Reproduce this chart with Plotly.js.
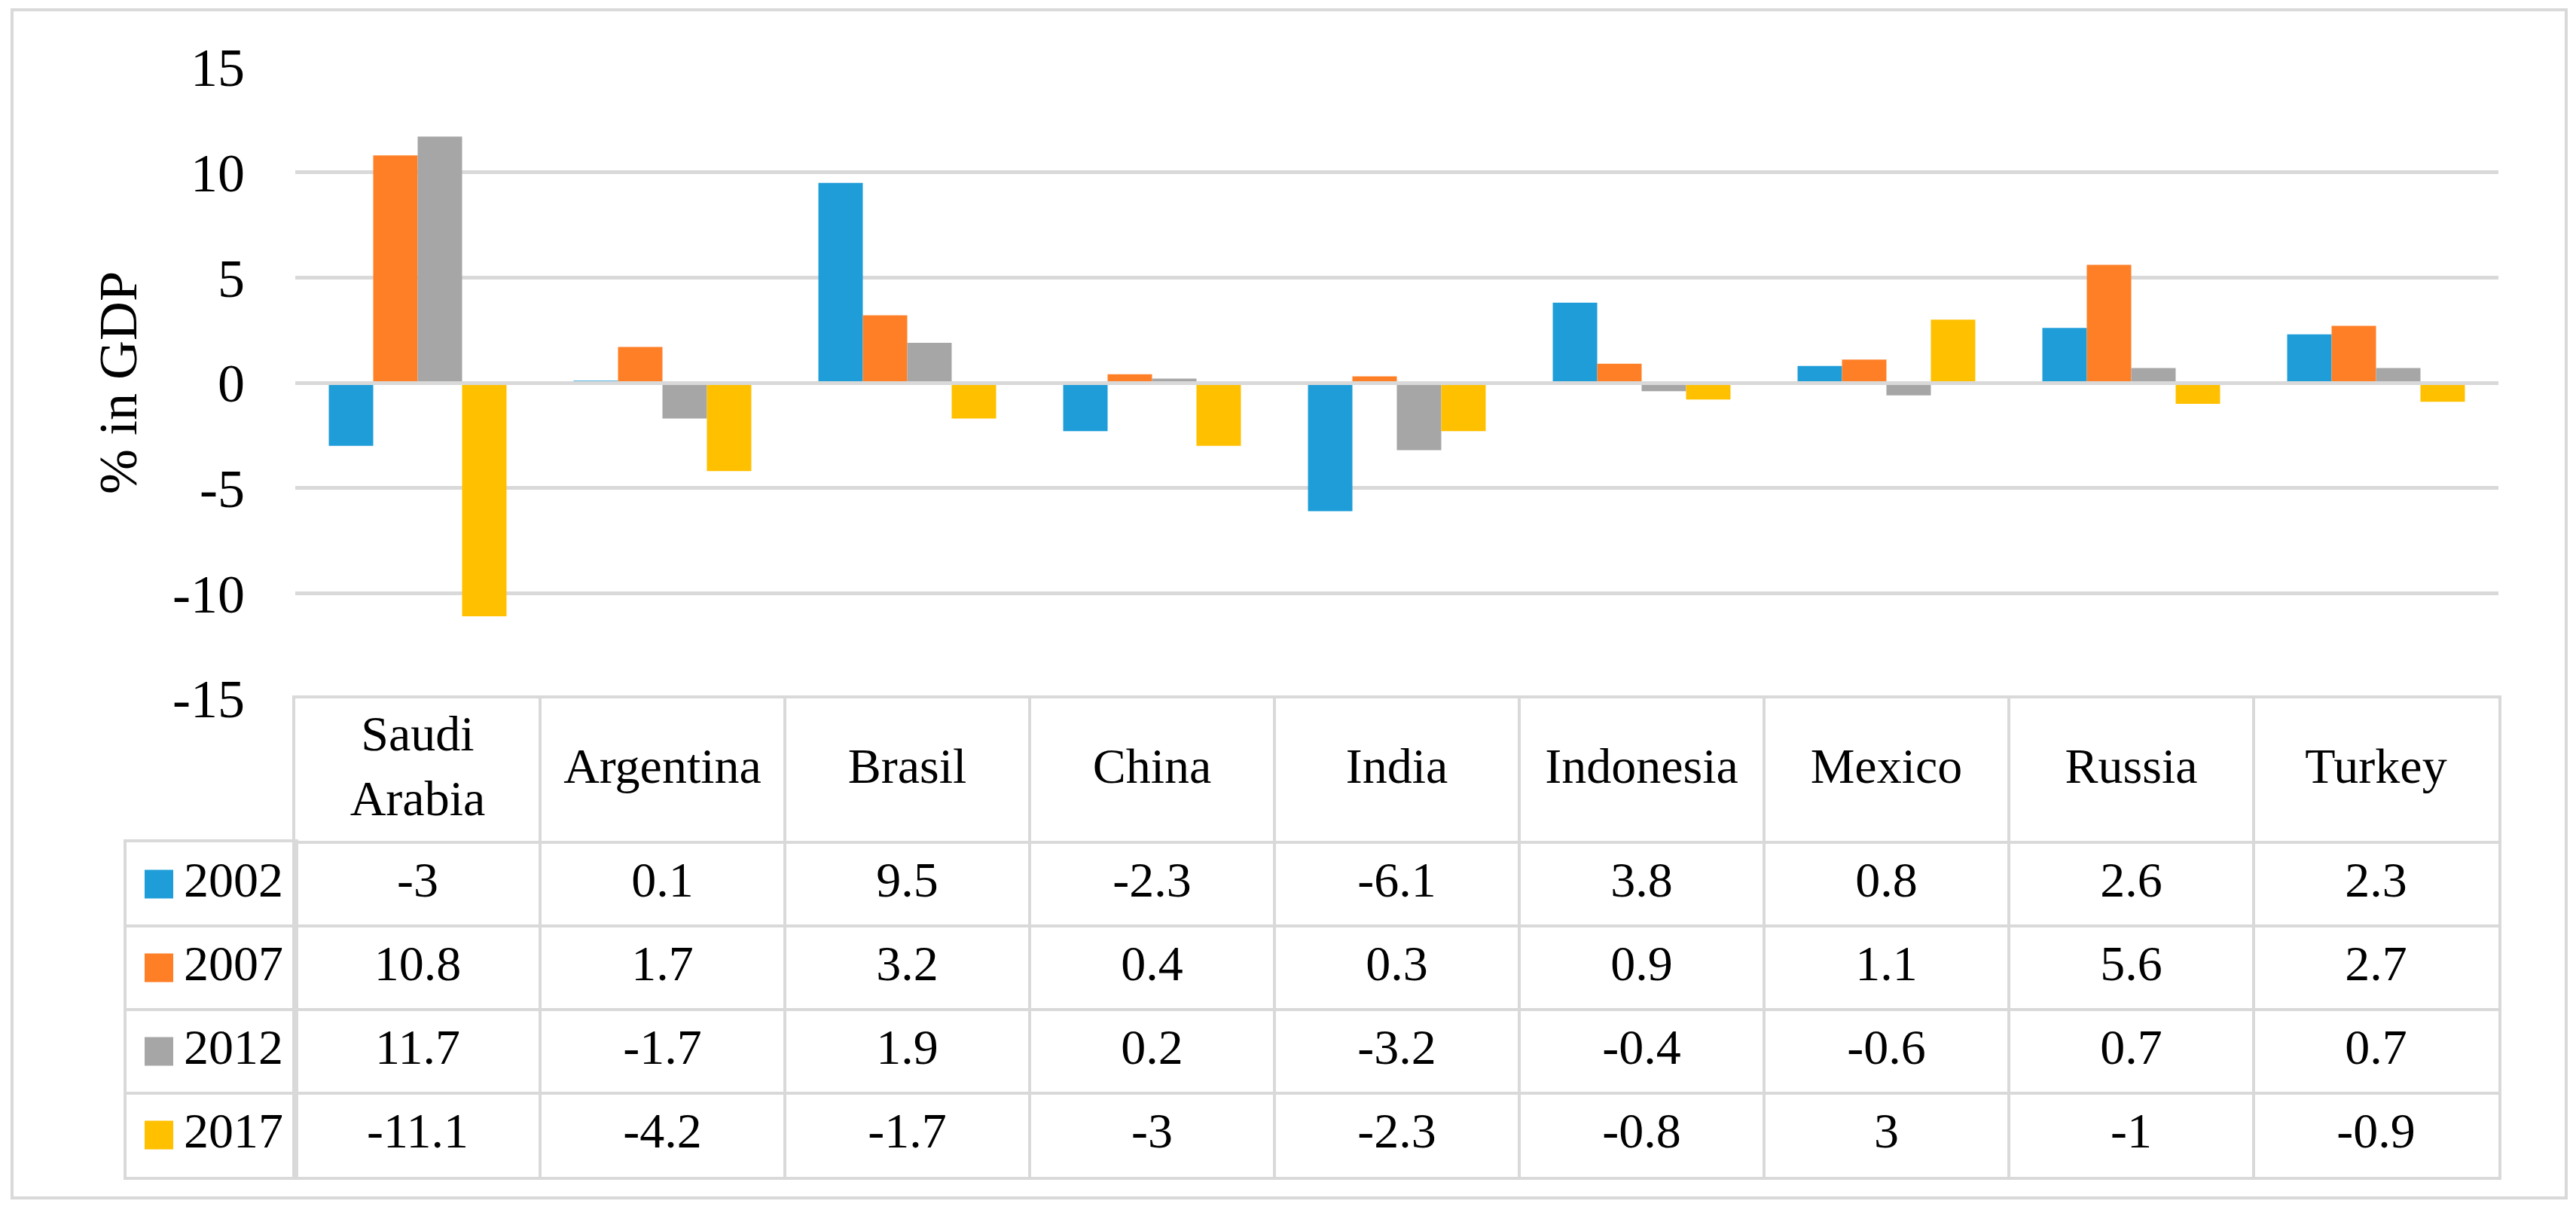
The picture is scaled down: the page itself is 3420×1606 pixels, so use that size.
<!DOCTYPE html>
<html>
<head>
<meta charset="utf-8">
<script src="https://cdn.plot.ly/plotly-3.0.1.min.js"></script>
<style>
  body { margin: 0; background: #fff; }
  #chart { width: 3420px; height: 1606px; }
  #frame {
    position: absolute; left: 14px; top: 11px; width: 3395px; height: 1581px;
    border: 4px solid #d9d9d9; box-sizing: border-box; pointer-events: none;
  }
</style>
</head>
<body>
<div id="chart"></div>
<div id="frame"></div>
<script>
var countries = ['Saudi Arabia', 'Argentina', 'Brasil', 'China', 'India', 'Indonesia', 'Mexico', 'Russia', 'Turkey'];
var years = ['2002', '2007', '2012', '2017'];

var v2002 = [-3, 0.1, 9.5, -2.3, -6.1, 3.8, 0.8, 2.6, 2.3];
var v2007 = [10.8, 1.7, 3.2, 0.4, 0.3, 0.9, 1.1, 5.6, 2.7];
var v2012 = [11.7, -1.7, 1.9, 0.2, -3.2, -0.4, -0.6, 0.7, 0.7];
var v2017 = [-11.1, -4.2, -1.7, -3, -2.3, -0.8, 3, -1, -0.9];

var yTicks = [-15, -10, -5, 0, 5, 10, 15];
var yTickText = ['-15', '-10', '-5', '0', '5', '10', '15'];

var series = [v2002, v2007, v2012, v2017];
var colors = ['#1f9dd9', '#ff7f27', '#a6a6a6', '#ffc000'];

var FONT = "'Palatino Linotype', 'Book Antiqua', Palatino, 'Liberation Serif', serif";
var GRID = '#d9d9d9';
var TSIZE = 66;

// pixel frame of the excel chart
var W = 3420, H = 1606;
var padL = 168, padR = 103, padT = 89, padB = 44;
var plotLeft = 392, plotBottom = 927;
var paperW = W - padL - padR, paperH = H - padT - padB;
var xStart = (plotLeft - padL) / paperW;
var yStart = (H - padB - plotBottom) / paperH;

// data table rows, in row units (one data row = 1)
var hdr = 191 / 111;
var rowTop = 4 + hdr;
var rowY = years.map(function(y, i) { return 3.5 - i; });

var data = series.map(function(s, i) {
  return {
    type: 'bar',
    name: years[i],
    x: countries,
    y: s,
    marker: {color: colors[i]},
    showlegend: false,
    hoverinfo: 'none'
  };
});

// table header: country names
data.push({
  type: 'scatter',
  mode: 'text',
  xaxis: 'x2',
  yaxis: 'y2',
  x: countries,
  y: countries.map(function() { return 4 + hdr / 2; }),
  text: countries.map(function(c) { return c.replace(' ', '<br>'); }),
  textposition: 'middle center',
  textfont: {family: FONT, size: TSIZE, color: '#000'},
  cliponaxis: false,
  showlegend: false,
  hoverinfo: 'none'
});

// table body: values
var tx = [], ty = [], tt = [];
series.forEach(function(s, i) {
  s.forEach(function(v, j) {
    tx.push(countries[j]);
    ty.push(rowY[i]);
    tt.push(String(v));
  });
});
data.push({
  type: 'scatter',
  mode: 'text',
  xaxis: 'x2',
  yaxis: 'y2',
  x: tx,
  y: ty,
  text: tt,
  textposition: 'middle center',
  textfont: {family: FONT, size: TSIZE, color: '#000'},
  cliponaxis: false,
  showlegend: false,
  hoverinfo: 'none'
});

// legend keys in the first column
data.push({
  type: 'scatter',
  mode: 'markers',
  xaxis: 'x3',
  yaxis: 'y3',
  x: years.map(function() { return 43; }),
  y: rowY,
  marker: {symbol: 'square', size: 38, color: colors, line: {width: 0}},
  showlegend: false,
  hoverinfo: 'none'
});
data.push({
  type: 'scatter',
  mode: 'text',
  xaxis: 'x3',
  yaxis: 'y3',
  x: years.map(function() { return 76; }),
  y: rowY,
  text: years,
  textposition: 'middle right',
  textfont: {family: FONT, size: TSIZE, color: '#000'},
  cliponaxis: false,
  showlegend: false,
  hoverinfo: 'none'
});

var tableLine = {
  showline: true, mirror: true, linecolor: GRID, linewidth: 4,
  showticklabels: false, ticks: '', zeroline: false, fixedrange: true
};

var layout = {
  width: W,
  height: H,
  margin: {l: padL, r: padR, t: padT, b: padB},
  paper_bgcolor: 'white',
  plot_bgcolor: 'white',
  font: {family: FONT, color: '#000'},
  barmode: 'group',
  bargap: 0.274,
  bargroupgap: 0,
  xaxis: {
    domain: [xStart, 1],
    anchor: 'y',
    type: 'category',
    categoryarray: countries,
    range: [-0.5, 8.5],
    showticklabels: false,
    ticks: '',
    showgrid: false,
    zeroline: false,
    showline: false,
    fixedrange: true
  },
  yaxis: {
    domain: [yStart, 1],
    anchor: 'x',
    range: [-15, 15],
    tickvals: yTicks,
    ticktext: yTickText,
    showgrid: true,
    gridcolor: GRID,
    gridwidth: 5,
    zeroline: true,
    zerolinecolor: GRID,
    zerolinewidth: 5,
    zerolinelayer: 'above traces',
    showline: false,
    ticks: '',
    ticklabelstandoff: 66,
    tickfont: {family: FONT, size: 72, color: '#000'},
    fixedrange: true
  },
  xaxis2: Object.assign({}, tableLine, {
    domain: [xStart, 1],
    anchor: 'y2',
    type: 'category',
    categoryarray: countries,
    range: [-0.5, 8.5],
    tickson: 'boundaries',
    showgrid: true,
    gridcolor: GRID,
    gridwidth: 4
  }),
  yaxis2: Object.assign({}, tableLine, {
    domain: [0, yStart],
    anchor: 'x2',
    range: [0, rowTop],
    tickvals: [1, 2, 3, 4],
    showgrid: true,
    gridcolor: GRID,
    gridwidth: 4
  }),
  xaxis3: Object.assign({}, tableLine, {
    domain: [0, xStart],
    anchor: 'y3',
    range: [0, plotLeft - padL],
    showgrid: false
  }),
  yaxis3: Object.assign({}, tableLine, {
    domain: [0, yStart * 4 / rowTop],
    anchor: 'x3',
    range: [0, 4],
    tickvals: [1, 2, 3],
    showgrid: true,
    gridcolor: GRID,
    gridwidth: 4
  }),
  annotations: [{
    text: '% in GDP',
    xref: 'paper',
    yref: 'paper',
    x: (157 - padL) / paperW,
    y: (yStart + 1) / 2,
    xanchor: 'center',
    yanchor: 'middle',
    textangle: -90,
    showarrow: false,
    font: {family: FONT, size: 72, color: '#000'}
  }]
};

Plotly.newPlot('chart', data, layout, {displayModeBar: false, staticPlot: true});
</script>
</body>
</html>
